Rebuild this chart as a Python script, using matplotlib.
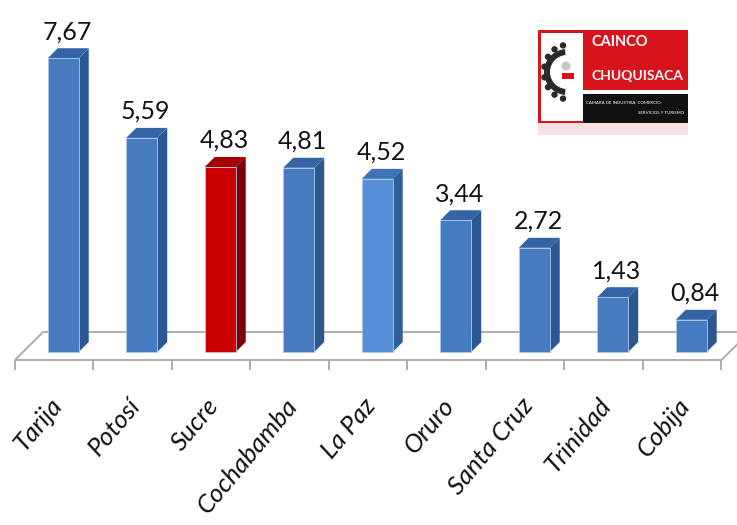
import matplotlib.pyplot as plt
from matplotlib.patches import Polygon, Rectangle, Circle, Wedge
import numpy as np

# valores por departamento
ciudades = ['Tarija', 'Potosí', 'Sucre', 'Cochabamba', 'La Paz',
            'Oruro', 'Santa Cruz', 'Trinidad', 'Cobija']
valores = [7.67, 5.59, 4.83, 4.81, 4.52, 3.44, 2.72, 1.43, 0.84]
etiquetas = ['7,67', '5,59', '4,83', '4,81', '4,52', '3,44', '2,72', '1,43', '0,84']

# colores (frente, lado, tapa)
AZUL = ('#477BC0', '#2C5892', '#3464A6')
AZUL_CLARO = ('#5790D8', '#2F5E9A', '#3F72B8')
ROJO = ('#CC0000', '#7F0000', '#A30000')
colores = [AZUL, AZUL, ROJO, AZUL, AZUL_CLARO, AZUL, AZUL, AZUL, AZUL]

FUENTE = 'Lato'

fig = plt.figure(figsize=(7.37, 5.25), dpi=100)
ax = fig.add_axes([0, 0, 1, 1])
ax.set_xlim(-0.691, 8.698)
ax.set_ylim(-4.517, 9.19)
ax.axis('off')

x = np.arange(len(ciudades))
ancho = 0.395
desp = 0.115          # corrimiento del frente dentro de la ranura
dx, dy = 0.127, 0.261  # profundidad de la barra

# piso
piso_atras, piso_frente = 0.522, -0.209
izq, der = -0.5, len(ciudades) - 0.5
fondo_dx = 0.357
piso = Polygon([(izq, piso_frente), (izq + fondo_dx, piso_atras),
                (der + fondo_dx, piso_atras), (der, piso_frente)],
               closed=True, facecolor='white', edgecolor='#A8A8A8', lw=1.3, zorder=1)
ax.add_patch(piso)
ax.vlines(np.arange(len(ciudades) + 1) - 0.5, piso_frente - 0.27, piso_frente,
          color='#A8A8A8', lw=1.3, zorder=1)

# barras
frentes = ax.bar(x + desp, valores, width=ancho, zorder=3)
for barra, v, c in zip(frentes, valores, colores):
    barra.set_facecolor(c[0])
    barra.set_edgecolor('#A9C8EE')
    barra.set_linewidth(0.6)
    x0 = barra.get_x()
    x1 = x0 + barra.get_width()
    ax.add_patch(Polygon([(x1, 0), (x1 + dx, dy), (x1 + dx, v + dy), (x1, v)],
                         closed=True, facecolor=c[1], edgecolor='none', zorder=2))
    ax.add_patch(Polygon([(x0, v), (x0 + dx, v + dy), (x1 + dx, v + dy), (x1, v)],
                         closed=True, facecolor=c[2], edgecolor='none', zorder=2))

# etiquetas de valor
for xi, v, t in zip(x, valores, etiquetas):
    ax.text(xi + desp + 0.05, v + dy + 0.13, t, ha='center', va='bottom',
            fontsize=18, family=FUENTE, color='#111111', zorder=4)

# nombres de ciudades
for xi, nombre in zip(x, ciudades):
    ax.text(xi - 0.07, -1.10, nombre, rotation=50, rotation_mode='anchor',
            ha='right', va='top', fontsize=18.5, style='italic', family=FUENTE,
            color='#111111')

# logo de la camara
lg = fig.add_axes([536 / 737, 1 - 138 / 525, 156 / 737, 110 / 525])
lg.set_xlim(536, 692)
lg.set_ylim(138, 28)
lg.axis('off')
lg.add_patch(Rectangle((538, 30), 150, 93, facecolor='#D7141B', edgecolor='none'))
lg.add_patch(Rectangle((541, 33), 42, 88, facecolor='white', edgecolor='none'))
lg.add_patch(Rectangle((583, 90), 105, 4, facecolor='white', edgecolor='none'))
lg.add_patch(Rectangle((583, 94), 105, 29, facecolor='#111111', edgecolor='none'))
lg.add_patch(Rectangle((538, 123), 150, 12, facecolor='#F7E0E1', edgecolor='none'))
# engranaje en forma de C
ang = np.radians(np.linspace(100, 260, 8))
for a in ang:
    lg.add_patch(Circle((567 + 23 * np.cos(a), 72 - 27 * np.sin(a)), 3.2,
                        facecolor='#2A2A2A', edgecolor='none'))
lg.add_patch(Wedge((567, 72), 23, 95, 265, width=6, facecolor='#2A2A2A',
                   edgecolor='none', transform=lg.transData))
lg.add_patch(Circle((566, 66), 4.5, facecolor='#C8C8C8', edgecolor='none'))
lg.add_patch(Rectangle((562, 73), 12, 6, facecolor='#D7141B', edgecolor='none'))
lg.text(591, 42, 'CAINCO', color='white', fontsize=10.5, family=FUENTE,
        weight='bold', va='center', ha='left')
lg.text(591, 76, 'CHUQUISACA', color='white', fontsize=10, family=FUENTE,
        weight='bold', va='center', ha='left')
lg.text(586, 102, 'CAMARA DE INDUSTRIA, COMERCIO,', color='white', fontsize=3.2,
        family=FUENTE, va='center', ha='left')
lg.text(684, 113, 'SERVICIOS Y TURISMO', color='white', fontsize=3.2,
        family=FUENTE, va='center', ha='right')

fig.savefig('out.png', dpi=100)
